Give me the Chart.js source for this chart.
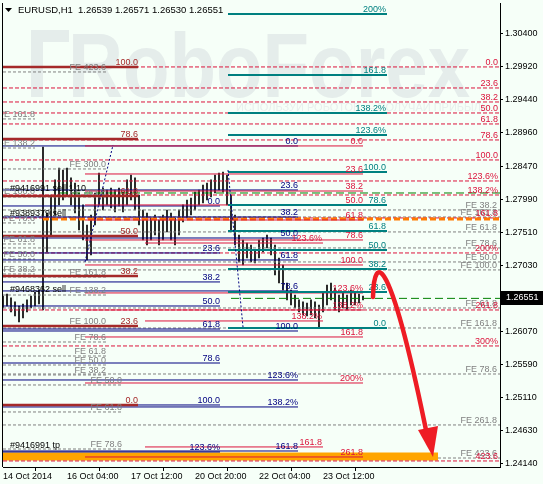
<!DOCTYPE html>
<html>
<head>
<meta charset="utf-8">
<script src="https://cdn.jsdelivr.net/npm/chart.js@4.4.0/dist/chart.umd.min.js"></script>
<style>
  html, body { margin: 0; padding: 0; background: #f6fff8; }
</style>
</head>
<body>
<canvas id="chart" width="543" height="484"></canvas>
<script>
// ---- data ----
const symbolName = 'EURUSD,H1';
const quoteNow = ['1.26539', '1.26571', '1.26530', '1.26551'];
const lastPrice = 1.26551;

const priceTicks = [1.24140, 1.24630, 1.25110, 1.25590, 1.26070, 1.27030, 1.27510,
                    1.27990, 1.28470, 1.28960, 1.29440, 1.29920, 1.30400];
const timeTicks = [0, 32, 64, 96, 128, 160];   // hours since first bar
const timeLabels = ['14 Oct 2014', '16 Oct 04:00', '17 Oct 12:00', '20 Oct 20:00', '22 Oct 04:00', '23 Oct 12:00'];

// H1 bars (every second hour), low / high
const barHours = [0, 2, 4, 6, 8, 10, 12, 14, 16, 18, 20, 22, 24, 26, 28, 30, 32, 34, 36, 38,
                  40, 42, 44, 46, 48, 50, 52, 54, 56, 58, 60, 62, 64, 66, 68, 70, 72, 74, 76, 78,
                  80, 82, 84, 86, 88, 90, 92, 94, 96, 98, 100, 102, 104, 106, 108, 110, 112, 114, 116, 118,
                  120, 122, 124, 126, 128, 130, 132, 134, 136, 138, 140, 142, 144, 146, 148, 150, 152, 154, 156, 158,
                  160, 162, 164, 166, 168, 170, 172, 174, 176, 178, 180];
const barLows = [1.26411, 1.26440, 1.26353, 1.26295, 1.26207, 1.26266, 1.26353, 1.26411, 1.26440, 1.26469,
                 1.26382, 1.27226, 1.27474, 1.27765, 1.27911, 1.27983, 1.28056, 1.27911, 1.27794, 1.27547,
                 1.27401, 1.27110, 1.27183, 1.27619, 1.27911, 1.27838, 1.27911, 1.27867, 1.27809, 1.27896,
                 1.27809, 1.27911, 1.27983, 1.27838, 1.27619, 1.27401, 1.27328, 1.27401, 1.27474, 1.27328,
                 1.27401, 1.27518, 1.27401, 1.27328, 1.27474, 1.27663, 1.27721, 1.27765, 1.27838, 1.27911,
                 1.27940, 1.27983, 1.28027, 1.28085, 1.28129, 1.28100, 1.27911, 1.27518, 1.27328, 1.27081,
                 1.27037, 1.27139, 1.27081, 1.27066, 1.27139, 1.27226, 1.27285, 1.27183, 1.26892, 1.26775,
                 1.26673, 1.26528, 1.26455, 1.26411, 1.26353, 1.26309, 1.26295, 1.26309, 1.26266, 1.26120,
                 1.26353, 1.26455, 1.26528, 1.26382, 1.26353, 1.26411, 1.26382, 1.26455, 1.26455, 1.26484,
                 1.26528];
const barHighs = [1.26586, 1.26615, 1.26557, 1.26499, 1.26440, 1.26469, 1.26528, 1.26586, 1.26644, 1.26673,
                  1.28755, 1.27794, 1.28056, 1.28275, 1.28449, 1.28420, 1.28449, 1.28304, 1.28231, 1.28085,
                  1.27911, 1.27619, 1.27765, 1.28085, 1.28376, 1.28158, 1.28129, 1.28158, 1.28129, 1.28158,
                  1.28100, 1.28275, 1.28347, 1.28304, 1.28056, 1.27838, 1.27794, 1.27721, 1.27765, 1.27692,
                  1.27765, 1.27838, 1.27794, 1.27721, 1.27838, 1.27911, 1.27983, 1.28012, 1.28100, 1.28129,
                  1.28202, 1.28231, 1.28275, 1.28347, 1.28376, 1.28391, 1.28347, 1.28056, 1.27765, 1.27474,
                  1.27401, 1.27357, 1.27328, 1.27256, 1.27401, 1.27430, 1.27474, 1.27430, 1.27328, 1.27139,
                  1.27037, 1.26775, 1.26673, 1.26600, 1.26528, 1.26499, 1.26484, 1.26528, 1.26499, 1.26455,
                  1.26644, 1.26746, 1.26775, 1.26702, 1.26600, 1.26644, 1.26600, 1.26673, 1.26630, 1.26615,
                  1.26586];

// fibonacci / expansion objects: [price, label]
const fiboRed = [[1.29920, '0.0'], [1.29614, '23.6'], [1.29410, '38.2'], [1.29250, '50.0'], [1.29090, '61.8'],
                 [1.28857, '78.6'], [1.28566, '100.0'], [1.28260, '123.6%'], [1.28056, '138.2%'], [1.27722, '161.8'],
                 [1.27212, '200%'], [1.26382, '261.8'], [1.25858, '300%'], [1.24184, '423.6']];
const fiboTeal = [[1.30691, '200%'], [1.29803, '161.8'], [1.29250, '138.2%'], [1.28930, '123.6%'], [1.28391, '100.0'],
                  [1.27911, '78.6'], [1.27532, '61.8'], [1.27256, '50.0'], [1.26979, '38.2'], [1.26644, '23.6'],
                  [1.26120, '0.0']];
const fiboNavy1 = [[1.28770, '0.0'], [1.28129, '23.6'], [1.27736, '38.2'], [1.27430, '50.0'], [1.27110, '61.8'],
                   [1.26659, '78.6'], [1.26076, '100.0'], [1.25363, '123.6%'], [1.24970, '138.2%'], [1.24329, '161.8']];
const fiboNavy2 = [[1.27896, '0.0'], [1.27212, '23.6'], [1.26790, '38.2'], [1.26440, '50.0'], [1.26105, '61.8'],
                   [1.25610, '78.6'], [1.24999, '100.0'], [1.24315, '123.6%']];
const fiboBrown = [[1.29920, '100.0'], [1.28871, '78.6'], [1.28042, '61.8'], [1.27459, '50.0'], [1.26877, '38.2'],
                   [1.26149, '23.6'], [1.24999, '0.0']];
const fiboRedSolid = [[1.28770, '0.0'], [1.28362, '23.6'], [1.28114, '38.2'], [1.27911, '50.0'], [1.27692, '61.8'],
                      [1.27401, '78.6'], [1.27037, '100.0'], [1.26630, '123.6%'], [1.26382, '138.2%'], [1.25989, '161.8'],
                      [1.25319, '200%'], [1.24242, '261.8']];
const fiboRedThin = [[1.27357, '123.6%'], [1.26222, '138.2%'], [1.24388, '161.8']];
const feLeft1 = [[1.29163, 'FE 161.8'], [1.28740, 'FE 138.2'], [1.28042, 'FE 100.0'], [1.27649, 'FE 78.6'],
                 [1.27343, 'FE 61.8'], [1.27124, 'FE 50.0'], [1.26906, 'FE 38.2']];
const feLeft2 = [[1.29847, 'FE 423.6'], [1.28435, 'FE 300.0'], [1.28027, 'FE 261.8'], [1.26862, 'FE 161.8'],
                 [1.26600, 'FE 138.2'], [1.26149, 'FE 100.0'], [1.25916, 'FE 78.6'], [1.25712, 'FE 61.8'],
                 [1.25581, 'FE 50.0'], [1.25436, 'FE 38.2']];
const feLeft3 = [[1.25290, 'FE 50.0'], [1.24897, 'FE 61.8'], [1.24358, 'FE 78.6']];
const feRight = [[1.27838, 'FE 38.2'], [1.27736, 'FE 161.8'], [1.27518, 'FE 61.8'], [1.27285, 'FE 78.6'],
                 [1.27081, 'FE 50.0'], [1.26965, 'FE 100.0'], [1.26411, 'FE 61.8'], [1.26120, 'FE 161.8'],
                 [1.25450, 'FE 78.6'], [1.24708, 'FE 261.8'], [1.24227, 'FE 423.6']];

// trade lines and tags
const stopLine = 1.28085;
const sellLine = 1.27707;
const tpBand = 1.24250;
const orderTags = [['#9416991 sell 1.10', 1.28114], ['#9389379 sell', 1.27750],
                   ['#9468362 sell', 1.26644], ['#9416991 tp', 1.24373]];

// expansion trend lines [hour, price]
const trendA = [[41, 1.27081], [55, 1.28784]];
const trendB = [[112.5, 1.28420], [120, 1.26134]];

// forecast arrow: start, control 1, control 2, end; head: tip, left, right
const arrowCurve = [[185, 1.26571], [185.5, 1.27226], [193.5, 1.27226], [212.5, 1.24490]];
const arrowHead = [[215, 1.24242], [207.5, 1.24635], [217.5, 1.24693]];

// ---- styling ----
const BG = '#f6fff8';
const FONT = '"Liberation Sans", Arial, sans-serif';

const styleGroups = [
  {levels: feRight,  from: 0, to: 248.5, labelAt: 247,   color: '#808080', width: 1, dash: [3, 2], order: 60},
  {levels: feLeft1,  from: 0, to: 16,    labelAt: 16,    color: '#808080', width: 1, dash: [3, 2], order: 60},
  {levels: feLeft2,  from: 0, to: 51.5,  labelAt: 51.5,  color: '#808080', width: 1, dash: [3, 2], order: 60},
  {levels: feLeft3,  from: 0, to: 59.5,  labelAt: 59.5,  color: '#808080', width: 1, dash: [3, 2], order: 60},
  {levels: fiboRed,  from: 0, to: 248.5, labelAt: 247.5, color: '#dc143c', width: 1, dash: [4, 2], order: 50},
  {levels: fiboNavy2, from: 0, to: 108.5, labelAt: 108.5, color: '#000080', width: 1, dash: [], order: 40},
  {levels: fiboNavy1, from: 0, to: 147.5, labelAt: 147.5, color: '#000080', width: 1, dash: [], order: 40},
  {levels: fiboRedThin, from: 71, to: 160, labelAt: 159.5, color: '#dc143c', width: 1, dash: [], order: 36},
  {levels: fiboRedSolid, from: 41, to: 180, labelAt: 180, color: '#dc143c', width: 1, dash: [], order: 35},
  {levels: fiboBrown, from: 0, to: 67.5, labelAt: 67.5, color: '#a52a2a', width: 2.5, dash: [], order: 30},
  {levels: fiboTeal, from: 112.5, to: 192, labelAt: 191.5, color: '#008080', width: 2, dash: [], order: 20}
];

function flatLine(from, to, p) {
  return [{x: from, y: p}, {x: to, y: p}];
}

const datasets = [{
  type: 'bar',
  data: barHours.map((h, i) => ({x: h, y: [barLows[i], barHighs[i]]})),
  backgroundColor: '#000000',
  barThickness: 1,
  order: 100
}];

styleGroups.forEach(g => {
  g.levels.forEach(([p]) => {
    datasets.push({
      type: 'line', data: flatLine(g.from, g.to, p),
      borderColor: g.color, borderWidth: g.width, borderDash: g.dash,
      pointRadius: 0, order: g.order
    });
  });
});

datasets.push(
  {type: 'line', data: flatLine(0, 217.5, tpBand), borderColor: '#ffa500', borderWidth: 8, pointRadius: 0, order: 55},
  {type: 'line', data: flatLine(28.5, 248.5, stopLine), borderColor: '#008000', borderWidth: 1, borderDash: [8, 4], pointRadius: 0, order: 45},
  {type: 'line', data: flatLine(114, 248.5, lastPrice), borderColor: '#008000', borderWidth: 1, borderDash: [8, 4], pointRadius: 0, order: 45},
  {type: 'line', data: flatLine(20, 248.5, sellLine), borderColor: '#ff7a00', borderWidth: 3, borderDash: [6, 3], pointRadius: 0, order: 44},
  {type: 'line', data: trendA.map(([h, p]) => ({x: h, y: p})), borderColor: '#000080', borderWidth: 1, borderDash: [2, 2], pointRadius: 0, order: 15},
  {type: 'line', data: trendB.map(([h, p]) => ({x: h, y: p})), borderColor: '#000080', borderWidth: 1, borderDash: [2, 2], pointRadius: 0, order: 15}
);

function clipArea(ctx, a) {
  ctx.beginPath();
  ctx.rect(a.left, a.top, a.right - a.left, a.bottom - a.top);
  ctx.clip();
}

const mt4Plugin = {
  id: 'mt4',
  beforeDraw(chart) {
    const ctx = chart.ctx;
    ctx.save();
    ctx.fillStyle = BG;
    ctx.fillRect(0, 0, chart.width, chart.height);
    ctx.restore();
  },
  beforeDatasetsDraw(chart) {
    // RoboForex watermark
    const {ctx, chartArea: a} = chart;
    ctx.save();
    clipArea(ctx, a);
    ctx.fillStyle = '#e5edeb';
    ctx.fillRect(31, 30, 12, 67);
    ctx.fillRect(31, 30, 38, 12);
    ctx.font = 'bold 90px ' + FONT;
    ctx.textBaseline = 'alphabetic';
    const w = ctx.measureText('RoboForex').width;
    ctx.save();
    ctx.translate(68, 97);
    ctx.scale(402 / w, 1);
    ctx.fillText('RoboForex', 0, 0);
    ctx.restore();
    ctx.font = '11px ' + FONT;
    ctx.fillStyle = '#e8efed';
    ctx.fillText('ИСПОЛЬЗУЙ РОБОТОВ — ПОЛУЧАЙ ПРИБЫЛЬ', 236, 111);
    ctx.restore();
  },
  afterDatasetsDraw(chart) {
    const {ctx, chartArea: a, scales: {x, y}} = chart;
    ctx.save();
    clipArea(ctx, a);
    ctx.font = '9px ' + FONT;
    ctx.textAlign = 'right';
    ctx.textBaseline = 'alphabetic';
    styleGroups.forEach(g => {
      ctx.fillStyle = g.color;
      g.levels.forEach(([p, t]) => ctx.fillText(t, x.getPixelForValue(g.labelAt), y.getPixelForValue(p) - 2));
    });
    ctx.textAlign = 'left';
    ctx.fillStyle = '#000000';
    orderTags.forEach(([t, p]) => ctx.fillText(t, x.getPixelForValue(3.5), y.getPixelForValue(p)));

    // forecast arrow
    const pt = ([h, p]) => [x.getPixelForValue(h), y.getPixelForValue(p)];
    const [p0, c1, c2, p3] = arrowCurve.map(pt);
    ctx.strokeStyle = '#ee1c24';
    ctx.lineWidth = 4.5;
    ctx.lineCap = 'round';
    ctx.beginPath();
    ctx.moveTo(p0[0], p0[1]);
    ctx.bezierCurveTo(c1[0], c1[1], c2[0], c2[1], p3[0], p3[1]);
    ctx.stroke();
    const [tip, l, r] = arrowHead.map(pt);
    ctx.fillStyle = '#ee1c24';
    ctx.beginPath();
    ctx.moveTo(tip[0], tip[1]);
    ctx.lineTo(l[0], l[1]);
    ctx.lineTo(r[0], r[1]);
    ctx.closePath();
    ctx.fill();
    ctx.restore();
  },
  afterDraw(chart) {
    const {ctx, chartArea: a, scales: {y}} = chart;
    ctx.save();
    // left frame
    ctx.strokeStyle = '#000000';
    ctx.lineWidth = 1;
    ctx.beginPath();
    ctx.moveTo(a.left - 0.5, a.top);
    ctx.lineTo(a.left - 0.5, a.bottom);
    ctx.stroke();
    // current price box
    const py = Math.round(y.getPixelForValue(lastPrice));
    ctx.fillStyle = '#000000';
    ctx.fillRect(a.right + 1, py - 7, 42, 14);
    ctx.fillStyle = '#ffffff';
    ctx.font = '9px ' + FONT;
    ctx.textBaseline = 'middle';
    ctx.fillText(lastPrice.toFixed(5), a.right + 6, py);
    // header
    ctx.fillStyle = '#000000';
    ctx.beginPath();
    ctx.moveTo(5, 8); ctx.lineTo(12, 8); ctx.lineTo(8.5, 12); ctx.closePath();
    ctx.fill();
    ctx.font = '9.5px ' + FONT;
    ctx.fillText(symbolName, 18, 10);
    ctx.fillText(quoteNow.join(' '), 78, 10);
    ctx.restore();
  }
};

new Chart(document.getElementById('chart'), {
  type: 'bar',
  data: {datasets: datasets},
  options: {
    responsive: false,
    animation: false,
    devicePixelRatio: 1,
    layout: {padding: {left: 3, top: 3, right: 0, bottom: 0}},
    plugins: {legend: {display: false}, tooltip: {enabled: false}},
    scales: {
      x: {
        type: 'linear', min: 0, max: 248.5, offset: false,
        afterBuildTicks: s => { s.ticks = timeTicks.map(v => ({value: v})); },
        afterFit: s => { s.height = 17; s.paddingLeft = 0; s.paddingRight = 0; },
        ticks: {
          autoSkip: false, maxRotation: 0, align: 'start', padding: 0,
          color: '#000000', font: {family: FONT, size: 9},
          callback: (v, i) => timeLabels[i]
        },
        grid: {drawOnChartArea: false, drawTicks: true, tickLength: 4, color: '#000000'},
        border: {display: true, color: '#000000'}
      },
      y: {
        type: 'linear', position: 'right', min: 1.24096, max: 1.30851,
        afterBuildTicks: s => { s.ticks = priceTicks.map(v => ({value: v})); },
        afterFit: s => { s.width = 43; s.paddingTop = 0; s.paddingBottom = 0; },
        ticks: {
          autoSkip: false, padding: 2,
          color: '#000000', font: {family: FONT, size: 9},
          callback: v => v.toFixed(5)
        },
        grid: {drawOnChartArea: false, drawTicks: true, tickLength: 3, color: '#000000'},
        border: {display: true, color: '#000000'}
      }
    }
  },
  plugins: [mt4Plugin]
});
</script>
</body>
</html>
